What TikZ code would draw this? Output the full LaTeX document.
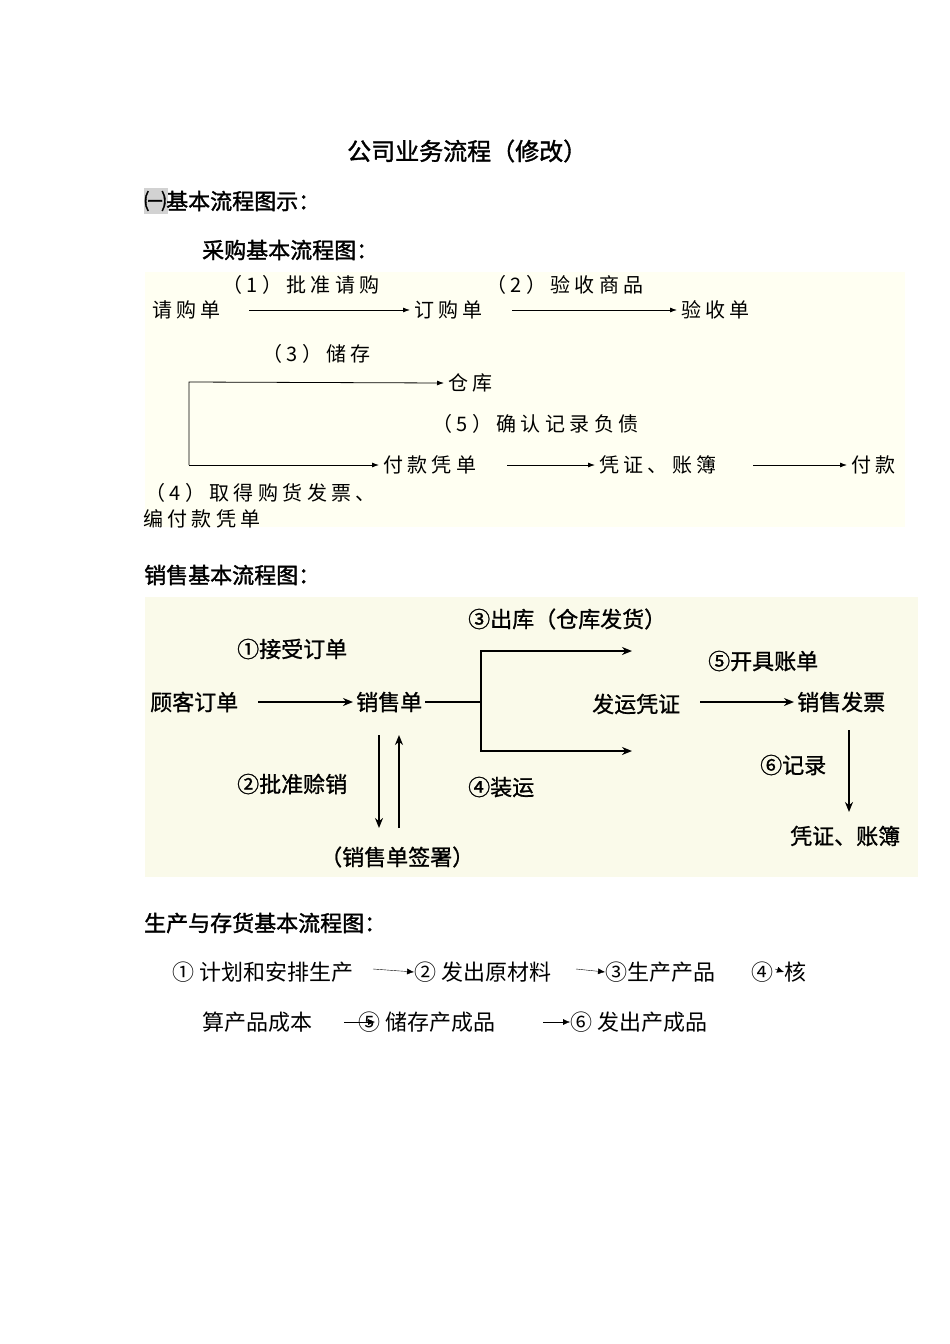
\documentclass[tikz,border=0pt]{standalone}
\usepackage{fontspec}
\setmainfont{Noto Sans CJK SC}
\newfontfamily\pix[LetterSpace=22]{Noto Sans CJK SC}
\newfontfamily\bld[FakeBold=1.5]{Noto Sans CJK SC}
\newfontfamily\bldd[FakeBold=1]{Noto Sans CJK SC}
\usetikzlibrary{arrows.meta}
\definecolor{bgA}{HTML}{FFFFF2}
\definecolor{bgB}{HTML}{FAFAEA}
\begin{document}
\begin{tikzpicture}[x=1pt,y=-1pt,
  t/.style={inner sep=0pt,anchor=west,font=\pix\fontsize{20}{20}\selectfont},
  h/.style={inner sep=0pt,anchor=west,font=\bld\fontsize{22}{22}\selectfont},
  p/.style={inner sep=0pt,anchor=west,font=\bldd\fontsize{22}{22}\selectfont},
  q/.style={inner sep=0pt,anchor=west,font=\fontsize{22}{22}\selectfont},
  ar/.style={-{Latex[length=7pt,width=5pt]},line width=0.8pt},
  br/.style={-{Stealth[length=10pt,width=8pt]},line width=2pt},
  tr/.style={-{Latex[length=7pt,width=6pt]},line width=0.4pt}]
\useasboundingbox (0,0) rectangle (950,1344);
\fill[white] (0,0) rectangle (950,1344);
\node[h,font=\bld\fontsize{24}{24}\selectfont] (title) at (347,151) {公司业务流程（修改）};
\fill[gray!35] (144,188) rectangle (168,214);
\node[h] (s1) at (144,201) {㈠基本流程图示：};
\node[h] (s2) at (202,250) {采购基本流程图：};
% panel 1
\fill[bgA] (145,272) rectangle (905,527);
\node[t] (l1) at (222,285) {（1）批准请购};
\node[t] (l2) at (486,285) {（2）验收商品};
\node[t] (a) at (152,310) {请购单};
\node[t] (b) at (414,310) {订购单};
\node[t] (c) at (681,310) {验收单};
\draw[ar] (249,310) -- ([xshift=-4pt]b.west);
\draw[ar] (512,310) -- ([xshift=-4pt]c.west);
\node[t] (l3) at (262,354) {（3）储存};
\node[t] (d) at (448,383) {仓库};
\node[t] (l5) at (432,424) {（5）确认记录负债};
\node[t] (e) at (383,465) {付款凭单};
\node[t] (f) at (599,465) {凭证、账簿};
\node[t] (g) at (851,465) {付款};
\coordinate (top) at (189,382);
\coordinate (bot) at (189,465);
\draw[ar] (bot) -- (top) -- ([xshift=-4pt]d.west);
\draw[ar] (bot) -- ([xshift=-4pt]e.west);
\draw[ar] (507,465) -- ([xshift=-4pt]f.west);
\draw[ar] (753,465) -- ([xshift=-4pt]g.west);
\node[t] (l4) at (145,493) {（4）取得购货发票、};
\node[t] (l4b) at (143,519) {编付款凭单};
% panel 2
\node[h] (s3) at (144,575) {销售基本流程图：};
\fill[bgB] (145,597) rectangle (918,877);
\node[p] (m1) at (237,649) {①接受订单};
\node[p] (m2) at (150,702) {顾客订单};
\node[p] (m3) at (356,702) {销售单};
\draw[br] (258,702) -- ([xshift=-3pt]m3.west);
\node[p] (m4) at (468,619) {③出库（仓库发货）};
\node[p] (m5) at (468,787) {④装运};
\coordinate (j) at (481,702);
\draw[line width=2pt] ([xshift=3pt]m3.east) -- (j);
\draw[br] (j) |- (632,651);
\draw[br] (j) |- (632,751);
\node[p] (m6) at (592,704) {发运凭证};
\node[p] (m7) at (708,661) {⑤开具账单};
\node[p] (m8) at (797,702) {销售发票};
\draw[br] (700,702) -- ([xshift=-3pt]m8.west);
\node[p] (m9) at (237,784) {②批准赊销};
\coordinate (v1) at (379,735); \coordinate (v2) at (379,828);
\coordinate (w1) at (399,828); \coordinate (w2) at (399,735);
\draw[br] (v1) -- (v2);
\draw[br] (w1) -- (w2);
\node[p] (m10) at (320,857) {（销售单签署）};
\node[p] (m11) at (760,765) {⑥记录};
\draw[br] (849,730) -- (849,812);
\node[p] (m12) at (790,836) {凭证、账簿};
% panel 3
\node[h] (s4) at (144,923) {生产与存货基本流程图：};
\node[q] (q1) at (172,972) {① 计划和安排生产};
\node[q] (q2) at (414,972) {② 发出原材料};
\node[q] (q3) at (605,972) {③生产产品};
\node[q] (q4) at (751,972) {④};
\node[q] (q4b) at (784,972) {核};
\node[q] (q5) at (202,1022) {算产品成本};
\node[q] (q6) at (358,1022) {⑤ 储存产成品};
\node[q] (q7) at (570,1022) {⑥ 发出产成品};
\draw[tr] (373,969) -- (q2.west);
\draw[tr] (576,969) -- (q3.west);
\draw[tr] (775,969) -- (q4b.west);
\draw[tr] (344,1022) -- (375,1022);
\draw[tr] (543,1022) -- (q7.west);
\end{tikzpicture}
\end{document}
